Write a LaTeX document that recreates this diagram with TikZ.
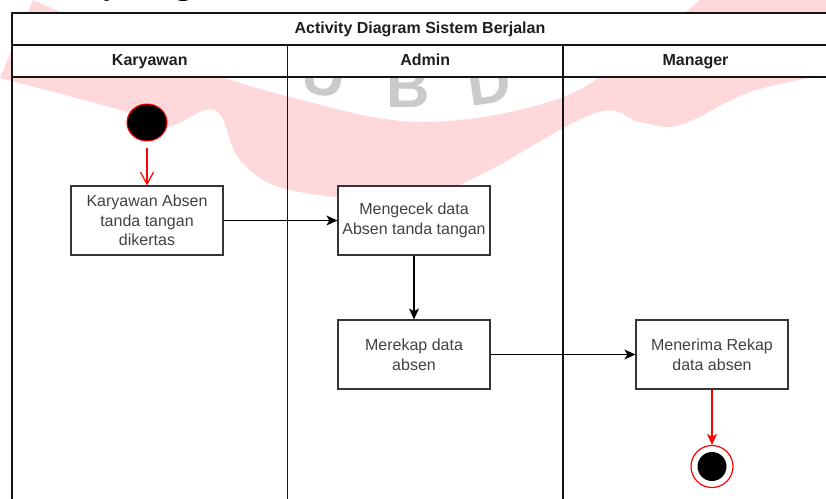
\documentclass[tikz,border=0pt]{standalone}
\usepackage{fontspec}
\setmainfont{Liberation Sans}
\newfontfamily\headingfont{Liberation Serif}
\usetikzlibrary{arrows.meta,shapes.geometric}
\definecolor{linecol} {RGB}{ 20, 20, 20}
\definecolor{boxedge} {RGB}{ 54, 54, 54}
\definecolor{boxtext} {RGB}{ 66, 66, 66}
\definecolor{flowred} {RGB}{255,  0,  0}
\definecolor{markpink}{RGB}{255,216,220}
\definecolor{markgrey}{RGB}{202,202,202}

\begin{document}
\begin{tikzpicture}[
  % one unit = one pixel of the 826 x 498 page, y grows downwards
  x=1pt,y=-1pt,
  >={Stealth[length=11pt,width=10pt,inset=3pt]},
  lanecell/.style={draw=linecol,line width=1.3pt,fill=white,inner sep=0pt,
    minimum height=32pt,text height=11.5pt,text depth=2.5pt,
    font=\bfseries\fontsize{16}{19}\selectfont,text=black!88},
  lanebody/.style={draw=linecol,line width=1.3pt,inner sep=0pt,minimum height=440pt},
  action/.style={draw=boxedge,line width=1.2pt,fill=white,minimum width=152pt,
    minimum height=69pt,inner sep=2pt,align=center,text=boxtext,
    font=\fontsize{16}{19.6}\selectfont},
  flow/.style={draw=black,line width=1.2pt,->},
  redflow/.style={draw=flowred,line width=1.2pt},
  markletter/.style={text=markgrey,font=\bfseries\fontsize{60}{60}\selectfont,
    inner sep=0pt,anchor=base}
]
\useasboundingbox (0,0) rectangle (826,498);
\fill[white] (0,0) rectangle (826,498);

% ---- watermark behind the diagram ---------------------------------------
\fill[markpink]
  plot[smooth,tension=0.6] coordinates
    {(33,0) (180,62) (290,97) (420,122) (555,100) (640,48) (700,0)}
  -- (826,0) -- (826,75)
  -- plot[smooth,tension=0.6] coordinates
    {(826,75) (750,92) (680,125) (640,122) (595,113) (480,175) (410,200)
     (290,190) (240,160) (215,110) (165,127) (120,110) (0,78)}
  -- cycle;
\node[markletter,rotate=-10] (mu) at (321,95) {U};
\node[markletter] (mb) at (408,107) {B};
\node[markletter,rotate=8] (md) at (492,103) {D};

% ---- heading of the page, cut by the top edge ----------------------------
\node[anchor=base west,inner sep=0pt,
  font=\headingfont\bfseries\fontsize{32}{32}\selectfont] (heading) at (11,-6)
  {Activity Diagram};

% ---- swimlanes -----------------------------------------------------------
\node[lanebody,minimum width=275.5pt] (bkar) at (149.75,297) {};
\node[lanebody,minimum width=275.5pt] (badm) at (425.25,297) {};
\node[lanebody,minimum width=265pt]   (bman) at (695.5,297) {};
\node[lanecell,minimum width=816pt] (title) at (420,29) {Activity Diagram Sistem Berjalan};
\node[lanecell,minimum width=275.5pt] (hkar) at (149.75,61) {Karyawan};
\node[lanecell,minimum width=275.5pt] (hadm) at (425.25,61) {Admin};
\node[lanecell,minimum width=265pt]   (hman) at (695.5,61) {Manager};

% ---- start and end -------------------------------------------------------
\node[ellipse,draw=flowred,fill=black,line width=1pt,minimum width=40pt,
  minimum height=37pt,inner sep=0pt] (start) at (147,122.5) {};
\node[circle,draw=flowred,fill=white,line width=1.2pt,minimum size=42pt,
  inner sep=0pt] (end) at (712,466.5) {};
\node[circle,fill=black,minimum size=29pt,inner sep=0pt] (endcore) at (end) {};

% ---- actions -------------------------------------------------------------
\node[action] (absen)  at (147,220.5) {Karyawan Absen\\tanda tangan\\dikertas};
\node[action] (cek)    at (414,220.5) {Mengecek data\\Absen tanda tangan};
\node[action] (rekap)  at (414,354.5) {Merekap data\\absen};
\node[action] (terima) at (712,354.5) {Menerima Rekap\\data absen};

% ---- flow ----------------------------------------------------------------
\draw[redflow,-{Straight Barb[length=12pt,width=13pt]},shorten <=6pt] (start) -- (absen);
\draw[flow] (absen) -- (cek);
\draw[flow] (cek) -- (rekap);
\draw[flow] (rekap) -- (terima);
\draw[redflow,-{Stealth[length=11pt,width=10pt,inset=3pt]}] (terima) -- (end);

\end{tikzpicture}
\end{document}
